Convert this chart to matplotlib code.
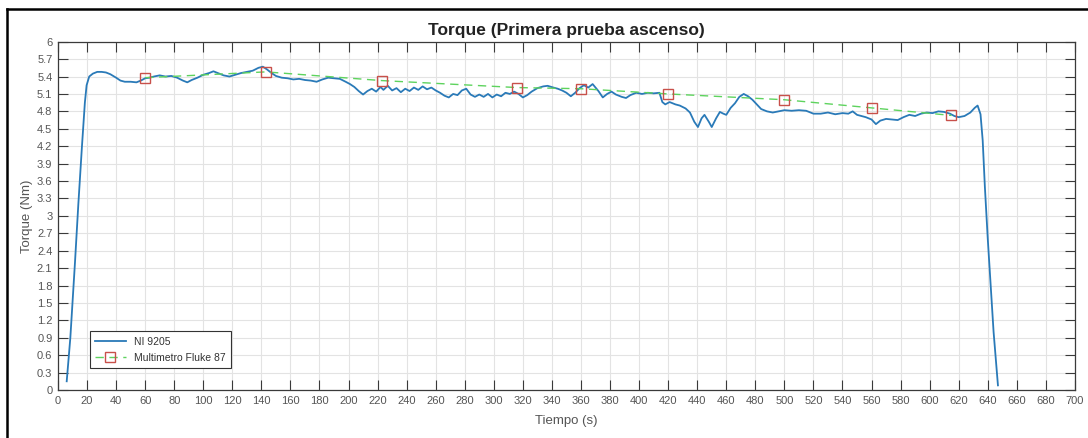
import matplotlib
matplotlib.use("Agg")
import matplotlib.pyplot as plt
from matplotlib.lines import Line2D
import numpy as np

plt.rcParams['font.family'] = ['Liberation Sans', 'DejaVu Sans']

# NI 9205 acquisition: time (s) and torque (Nm)
ni_time = [6, 8.5, 11.7, 14, 16.5, 18.5, 19.7, 21.5, 24, 27, 30, 33, 36, 40, 43, 46, 50, 54, 57,
           60, 63, 66, 70, 74, 78, 82, 86, 89, 92, 96, 100, 104, 107, 110, 114, 118, 122, 126,
           130, 134, 138, 141, 144, 147, 150, 154, 158, 162, 166, 170, 174, 178, 182, 186, 190,
           194, 198, 201, 204, 207, 210, 213, 216, 219, 222, 224, 227, 230, 233, 236, 239, 242,
           245, 248, 251, 254, 257, 260, 263, 266, 269, 272, 275, 278, 281, 284, 287, 290, 293,
           296, 299, 302, 305, 308, 311, 314, 317, 320, 323, 326, 330, 334, 337, 341, 344, 347,
           350, 353, 356, 359, 362, 365, 368, 372, 375, 378, 381, 384, 388, 391, 394, 398, 402,
           406, 410, 414, 416, 418, 421, 425, 428, 432, 435, 438, 440.5, 443, 445, 448, 450, 453,
           455.6, 458, 460, 463, 466, 469, 472, 475, 478, 481, 484, 488, 492, 496, 500, 505, 510,
           515, 520, 525, 530, 535, 540, 544, 547, 550, 553, 556, 560, 563, 566, 570, 574, 578,
           582, 586, 590, 594, 598, 602, 606, 610, 614, 617, 620, 624, 628, 631, 633, 635, 636.5,
           638, 640, 642, 644, 646, 647]
ni_torque = [0.15, 0.9, 2.2, 3.2, 4.2, 4.95, 5.25, 5.40, 5.45, 5.48, 5.48, 5.47, 5.44, 5.38, 5.33,
             5.31, 5.31, 5.30, 5.33, 5.37, 5.38, 5.40, 5.42, 5.40, 5.41, 5.38, 5.33, 5.30, 5.34,
             5.38, 5.43, 5.46, 5.49, 5.46, 5.42, 5.40, 5.43, 5.46, 5.48, 5.50, 5.55, 5.57, 5.52,
             5.46, 5.41, 5.38, 5.37, 5.35, 5.36, 5.34, 5.33, 5.31, 5.35, 5.38, 5.37, 5.36, 5.31,
             5.27, 5.22, 5.15, 5.09, 5.15, 5.19, 5.14, 5.22, 5.17, 5.24, 5.16, 5.20, 5.13, 5.19,
             5.15, 5.21, 5.17, 5.23, 5.18, 5.21, 5.16, 5.12, 5.07, 5.04, 5.10, 5.08, 5.16, 5.19,
             5.09, 5.05, 5.09, 5.05, 5.10, 5.04, 5.09, 5.06, 5.12, 5.10, 5.14, 5.10, 5.04, 5.08,
             5.14, 5.20, 5.23, 5.24, 5.21, 5.19, 5.16, 5.12, 5.06, 5.12, 5.20, 5.25, 5.21, 5.27,
             5.15, 5.04, 5.10, 5.14, 5.09, 5.05, 5.03, 5.08, 5.12, 5.10, 5.12, 5.11, 5.12, 4.96,
             4.92, 4.96, 4.92, 4.90, 4.85, 4.78, 4.62, 4.53, 4.68, 4.74, 4.62, 4.53, 4.68, 4.79,
             4.76, 4.74, 4.86, 4.94, 5.05, 5.10, 5.06, 5.00, 4.92, 4.84, 4.80, 4.78, 4.80, 4.82,
             4.81, 4.82, 4.81, 4.76, 4.76, 4.78, 4.75, 4.77, 4.76, 4.80, 4.74, 4.72, 4.70, 4.66,
             4.58, 4.64, 4.67, 4.66, 4.65, 4.70, 4.74, 4.72, 4.76, 4.78, 4.77, 4.80, 4.79, 4.76,
             4.72, 4.70, 4.72, 4.78, 4.86, 4.90, 4.75, 4.3, 3.5, 2.6, 1.8, 1.0, 0.4, 0.08]

# Fluke 87 multimeter readings
fluke_time = [60, 143, 223, 316, 360, 420, 500, 560, 615]
fluke_torque = [5.38, 5.48, 5.33, 5.21, 5.19, 5.10, 5.00, 4.86, 4.73]

x_ticks = list(range(0, 701, 20))
y_ticks = [round(0.3 * i, 1) for i in range(21)]
y_tick_labels = [('%g' % v) for v in y_ticks]

fig = plt.figure(figsize=(10.88, 4.38), dpi=100)
ax = fig.add_axes([0.0533, 0.1096, 0.9347, 0.7952])

blue = '#2a7ab8'
green = '#5ed35e'
red = '#c8504a'

ax.plot(ni_time, ni_torque, color=blue, lw=1.3, label='NI 9205', zorder=3)
ax.plot(fluke_time, fluke_torque, color=green, lw=1.0, ls=(0, (6, 4)),
        marker='s', markersize=7.5, markerfacecolor='none', markeredgecolor=red,
        markeredgewidth=1.0, label='Multimetro Fluke 87', zorder=4)

ax.set_xlim(0, 700)
ax.set_ylim(0, 6)
ax.set_xticks(x_ticks)
ax.set_yticks(y_ticks)
ax.set_yticklabels(y_tick_labels)
ax.grid(True, color='#e3e3e3', lw=0.8)
ax.set_axisbelow(True)

ax.tick_params(axis='both', which='both', direction='in', length=7, width=0.8,
               color='#3a3a3a', labelcolor='#555555', labelsize=8,
               top=True, right=True, labeltop=False, labelright=False, pad=4)
for sp in ax.spines.values():
    sp.set_color('#3a3a3a')
    sp.set_linewidth(0.9)

ax.set_title('Torque (Primera prueba ascenso)', fontsize=12.5, fontweight='bold',
             color='#222222', pad=5)
ax.set_xlabel('Tiempo (s)', fontsize=9.5, color='#555555', labelpad=7)
ax.set_ylabel('Torque (Nm)', fontsize=9.5, color='#555555', labelpad=3)

leg = ax.legend(loc='lower left', bbox_to_anchor=(0.031, 0.063), fontsize=7.5,
                frameon=True, fancybox=False, framealpha=1, edgecolor='#333333',
                borderpad=0.5, labelspacing=0.6, handlelength=3.0,
                borderaxespad=0)
leg.get_frame().set_linewidth(0.8)
for t in leg.get_texts():
    t.set_color('#333333')

# frame edges of the figure image
fig.add_artist(Line2D([7 / 1088, 7 / 1088], [0, 1 - 9 / 438], transform=fig.transFigure,
                      color='black', lw=1.8))
fig.add_artist(Line2D([7 / 1088, 1], [1 - 9 / 438, 1 - 9 / 438], transform=fig.transFigure,
                      color='black', lw=1.8))

fig.savefig('out.png', dpi=100)
